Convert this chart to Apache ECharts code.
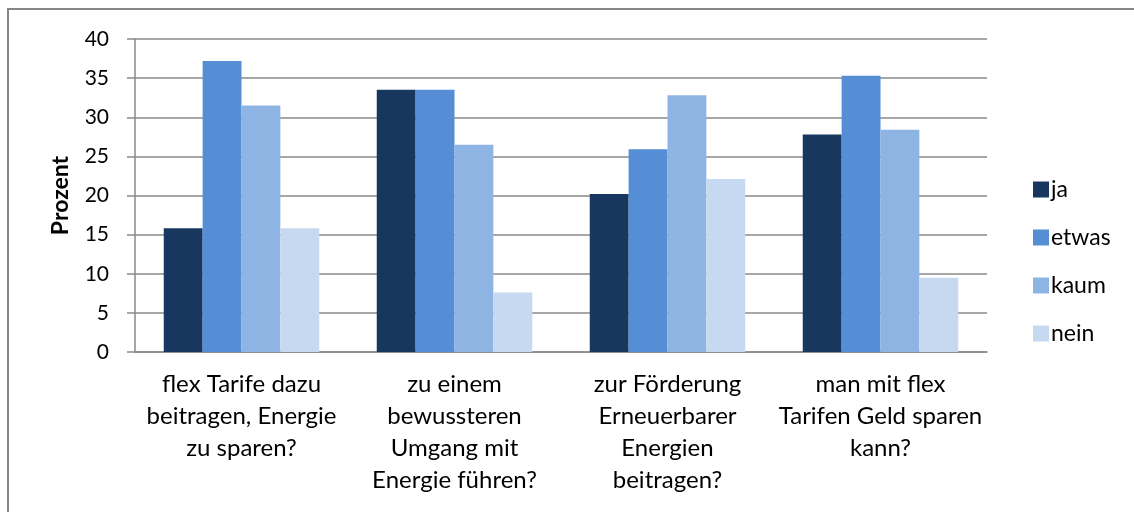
<!DOCTYPE html>
<html>
<head>
<meta charset="utf-8">
<script src="https://cdn.jsdelivr.net/npm/echarts@6/dist/echarts.min.js"></script>
<style>
  html, body { margin: 0; padding: 0; background: #fff; }
  #chart { width: 1134px; height: 512px; }
</style>
</head>
<body>
<div id="chart"></div>
<script>
// ---- Data ----
const categories = [
  'flex Tarife dazu\nbeitragen, Energie\nzu sparen?',
  'zu einem\nbewussteren\nUmgang mit\nEnergie führen?',
  'zur Förderung\nErneuerbarer\nEnergien\nbeitragen?',
  'man mit flex\nTarifen Geld sparen\nkann?'
];
const seriesNames = ['ja', 'etwas', 'kaum', 'nein'];
const ja = [15.8, 33.5, 20.2, 27.8];
const etwas = [37.2, 33.5, 25.9, 35.3];
const kaum = [31.5, 26.5, 32.8, 28.4];
const nein = [15.8, 7.6, 22.1, 9.5];
const colors = ['#17375e', '#558ed5', '#8eb4e3', '#c6d9f1'];

const font = 'Lato, "Open Sans", sans-serif';
const gridColor = '#8a8a8a';

const chart = echarts.init(document.getElementById('chart'));
const option = {
  animation: false,
  textStyle: { fontFamily: font },
  graphic: [{
    type: 'rect',
    shape: { x: 8, y: 9, width: 1200, height: 600 },
    style: { fill: 'none', stroke: '#868686', lineWidth: 2 },
    silent: true
  }],
  grid: { left: 135, right: 147, top: 39, bottom: 160 },
  legend: {
    data: seriesNames,
    orient: 'vertical',
    left: 1028,
    top: 173,
    itemWidth: 16,
    itemHeight: 16,
    itemGap: 25,
    icon: 'rect',
    textStyle: { fontSize: 23, color: '#000', fontFamily: font, padding: [0, 0, 0, -3] }
  },
  xAxis: {
    type: 'category',
    data: categories,
    axisLine: { lineStyle: { color: gridColor, width: 1.5 } },
    axisTick: { length: 8, lineStyle: { color: gridColor, width: 1.5 } },
    axisLabel: {
      interval: 0,
      margin: 16,
      fontSize: 24,
      lineHeight: 32,
      color: '#000',
      fontFamily: font
    }
  },
  yAxis: {
    type: 'value',
    min: 0,
    max: 40,
    interval: 5,
    name: 'Prozent',
    nameLocation: 'middle',
    nameGap: 63,
    nameTextStyle: { fontSize: 23, fontWeight: 'bold', color: '#000', fontFamily: font },
    axisLine: { show: true, lineStyle: { color: gridColor, width: 1.5 } },
    axisTick: { show: true, length: 8, lineStyle: { color: gridColor, width: 1.5 } },
    axisLabel: { fontSize: 21, color: '#000', margin: 26, fontFamily: font },
    splitLine: { lineStyle: { color: gridColor, width: 1.5 } }
  },
  series: [
    { name: 'ja', type: 'bar', data: ja },
    { name: 'etwas', type: 'bar', data: etwas },
    { name: 'kaum', type: 'bar', data: kaum },
    { name: 'nein', type: 'bar', data: nein }
  ].map((s, i) => Object.assign(s, {
    barGap: '0%',
    barCategoryGap: '27%',
    itemStyle: { color: colors[i] }
  }))
};
chart.setOption(option);
window.addEventListener('resize', () => chart.resize());
</script>
</body>
</html>
